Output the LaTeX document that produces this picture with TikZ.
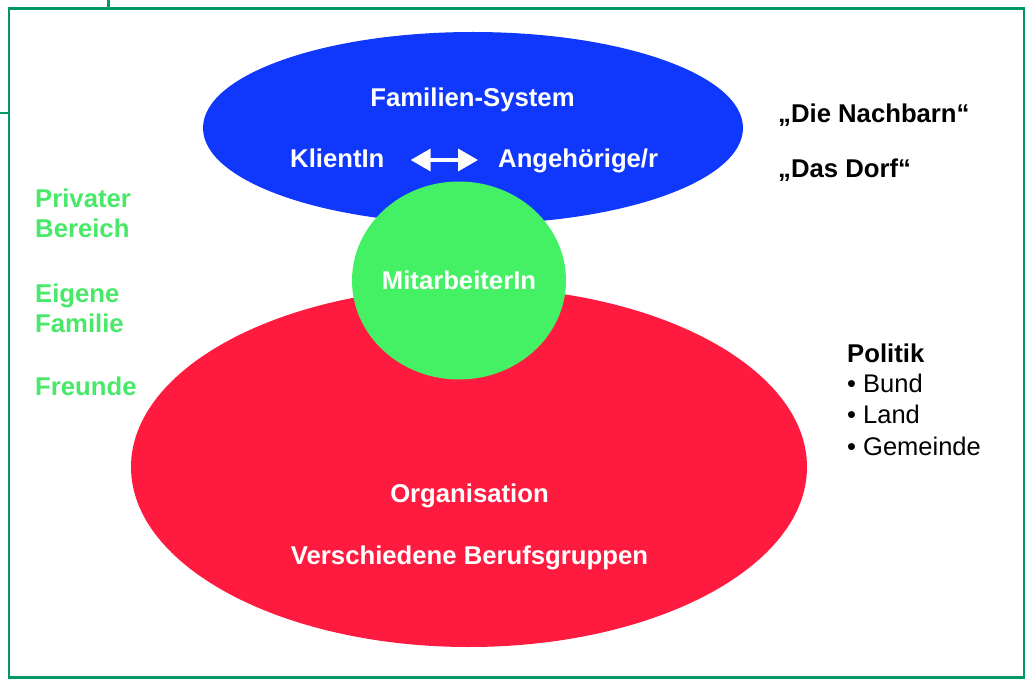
\documentclass[tikz,border=0pt]{standalone}
\usepackage{fontspec}
\setmainfont{Liberation Sans}
\usetikzlibrary{arrows.meta}
\definecolor{framegreen}{RGB}{0,153,102}
\definecolor{famblue}{RGB}{16,56,252}
\definecolor{orgred}{RGB}{255,26,64}
\definecolor{mitgreen}{RGB}{68,240,100}
\definecolor{txtgreen}{RGB}{72,232,104}
\begin{document}
\begin{tikzpicture}[x=1pt,y=-1pt,
  lbl/.style={inner sep=0pt, anchor=base west, font=\fontsize{25.7}{31}\selectfont\bfseries},
  clbl/.style={inner sep=0pt, anchor=base, font=\fontsize{25.7}{31}\selectfont\bfseries, text=white},
  rlbl/.style={inner sep=0pt, anchor=base west, font=\fontsize{25.5}{31}\selectfont},
  frame/.style={draw=framegreen, line width=2.8pt}]
\useasboundingbox (0,0) rectangle (1026,679);
% frame
\draw[frame] (9,8.5) rectangle (1024,677.3);
\coordinate (stubA) at (108.3,0);
\coordinate (stubB) at (108.3,8.5);
\coordinate (stubC) at (0,113);
\coordinate (stubD) at (9,113);
\draw[frame] (stubA) -- (stubB);
\draw[frame] (stubC) -- (stubD);
% shapes
\fill[famblue] (473,128) ellipse [x radius=270pt, y radius=96pt];
\fill[orgred] (469,467) ellipse [x radius=338pt, y radius=180pt];
\fill[mitgreen] (459,280.5) ellipse [x radius=107pt, y radius=99pt];
% texts in ellipses
\node[clbl] (famsys) at (472.5,107) {Familien-System};
\node[lbl, text=white] (klient) at (290,168) {KlientIn};
\node[lbl, text=white] (angeh) at (498,168) {Angehörige/r};
\draw[white, line width=3.5pt, {Triangle[length=20pt,width=22pt]}-{Triangle[length=20pt,width=22pt]},
  shorten <=26pt, shorten >=20pt] (klient.east |- 0,160) -- (angeh.west |- 0,160);
\node[clbl] (mitarb) at (459,290) {MitarbeiterIn};
\node[clbl] (orga) at (469.5,502) {Organisation};
\node[clbl] (berufe) at (469.5,564) {Verschiedene Berufsgruppen};
% left green texts
\node[lbl, text=txtgreen] (priv) at (35,208) {Privater};
\node[lbl, text=txtgreen] (ber) at (35,238) {Bereich};
\node[lbl, text=txtgreen] (eig) at (35,302) {Eigene};
\node[lbl, text=txtgreen] (fam) at (35,332) {Familie};
\node[lbl, text=txtgreen] (freu) at (35,395) {Freunde};
% right texts
\node[lbl] (nachb) at (778,123) {„Die Nachbarn“};
\node[lbl] (dorf) at (778,178) {„Das Dorf“};
\node[lbl] (pol) at (847,362) {Politik};
\node[rlbl] (bund) at (847,392) {• Bund};
\node[rlbl] (land) at (847,423) {• Land};
\node[rlbl] (gem) at (847,455) {• Gemeinde};
\end{tikzpicture}
\end{document}
